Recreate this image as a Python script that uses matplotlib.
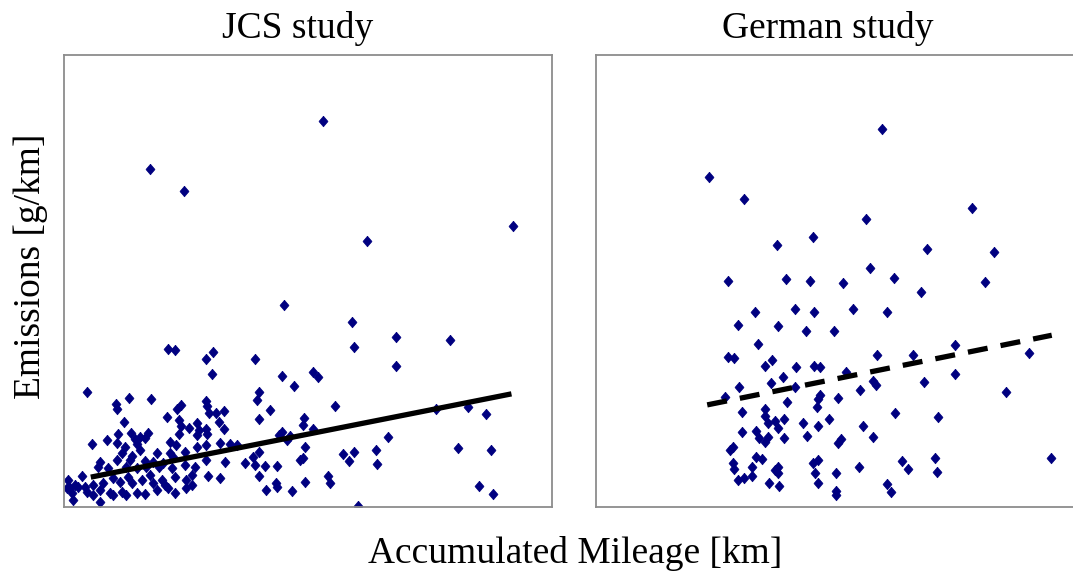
import numpy as np
import matplotlib.pyplot as plt

plt.rcParams['font.family'] = ['Liberation Serif', 'DejaVu Serif']

# JCS study: accumulated mileage vs. emissions (relative units)
jcs_mileage = [
    17.6, 24.7, 53.1, 62.2, 45.1, 59.1, 68.0, 92.1, 79.2, 76.2, 82.7, 86.5, 80.7, 87.6, 85.0, 87.9,
    21.3, 22.7, 29.1, 30.5, 30.3,
    59.4, 39.1, 68.0, 44.7, 51.0, 52.0, 47.1, 39.9, 39.5, 55.6, 42.2, 40.0, 49.2, 48.9, 51.1,
    44.7, 44.0, 46.3, 45.8, 66.4, 49.4, 34.0, 35.4, 39.9, 38.8, 57.2, 59.4, 63.9, 48.9, 48.3,
    37.1, 39.1, 41.3, 43.6, 58.4, 64.2, 40.0, 54.2, 54.5, 43.4, 43.6, 49.4, 41.4, 46.7, 60.3,
    4.7, 13.4, 17.9, 10.7, 10.8, 29.2, 23.9, 23.1, 29.4, 29.7, 31.1, 32.8, 21.2, 12.4, 23.6,
    27.3, 23.9, 31.8, 25.6, 27.6, 29.1, 32.8, 11.1, 13.7, 17.3, 16.6, 15.6, 14.6, 23.5, 27.2,
    29.4, 8.9, 5.7, 21.7, 23.0, 10.9, 12.6, 14.9, 15.6, 24.8, 27.2, 29.2, 32.0, 11.8, 13.9,
    19.0, 21.7, 10.8, 13.5, 16.6, 7.4, 18.3, 20.2, 22.4, 29.2, 33.0, 7.0, 9.1, 12.8, 14.9,
    16.9, 19.5, 22.1, 24.8, 26.8, 3.7, 0.9, 2.3, 1.2, 2.9, 4.3, 6.0, 8.1, 10.1, 11.5, 13.2,
    13.9, 15.9, 17.6, 18.2, 20.0, 20.7, 22.7, 25.1, 26.2, 29.6, 32.0, 26.2, 1.6, 1.9, 4.7,
    6.0, 7.4, 9.4, 10.1, 11.8, 12.8, 14.9, 16.6, 19.0, 21.4, 22.7, 25.1, 0.6, 7.4,
]
jcs_emissions = [
    74.8, 70.0, 85.3, 58.8, 44.8, 41.0, 37.6, 62.3, 37.1, 21.7, 22.1, 20.7, 13.1, 12.7, 4.8, 2.9,
    35.0, 34.7, 32.9, 34.4, 29.4,
    35.4, 32.9, 31.3, 29.1, 29.9, 28.8, 26.9, 25.5, 23.8, 22.4, 21.5, 19.6, 19.8, 18.2, 17.4,
    16.7, 16.1, 15.8, 14.9, 15.5, 13.4, 14.0, 13.8, 12.3, 11.2, 11.9, 12.3, 12.7, 10.9, 10.5,
    9.8, 9.4, 9.2, 9.2, 10.3, 9.5, 7.0, 7.0, 5.3, 5.3, 4.5, 5.6, 3.9, 3.6, 0.4,
    25.5, 24.2, 23.9, 22.8, 21.7, 23.6, 22.7, 21.8, 22.4, 20.8, 20.9, 21.4, 20.1, 19.0, 19.3,
    18.7, 17.9, 19.0, 17.5, 17.1, 17.3, 17.3, 16.2, 16.4, 16.4, 15.3, 15.6, 15.1, 16.2, 16.0,
    16.2, 14.9, 14.0, 14.5, 13.8, 14.2, 13.4, 14.0, 12.7, 12.3, 13.4, 13.8, 14.2, 12.0, 11.4,
    12.0, 12.0, 10.5, 10.5, 10.3, 10.1, 10.1, 9.9, 11.1, 10.5, 10.1, 9.0, 8.7, 9.0, 8.7,
    9.0, 9.0, 8.7, 9.4, 9.0, 7.0, 6.1, 5.0, 4.2, 4.6, 4.6, 5.0, 5.3, 6.5, 5.7, 6.8,
    5.3, 6.1, 7.2, 5.3, 6.1, 5.0, 6.8, 6.1, 7.2, 7.0, 6.5, 5.0, 3.1, 1.7, 3.5,
    2.8, 1.3, 3.1, 2.8, 3.5, 2.8, 3.1, 3.0, 3.9, 4.2, 3.1, 4.2, 4.2, 3.9,
]

# German study
ger_mileage = [
    58.7, 23.2, 30.4, 55.3, 44.5, 37.2, 56.1, 27.1, 38.9, 43.9, 50.6, 32.5, 40.7, 44.7, 52.7,
    59.7, 29.1, 37.4, 43.0, 48.8, 33.3, 27.0, 28.3, 36.1, 57.5, 34.7, 41.0, 44.7, 46.0,
    77.1, 67.9, 81.6, 61.1, 79.7, 66.6, 73.6, 88.7, 65.0, 73.6, 67.2, 84.1, 61.2, 70.0, 62.8,
    64.0, 69.5, 69.9, 93.2, 59.7, 60.4,
    51.3, 38.4, 29.3, 35.9, 40.8, 54.2, 56.7, 57.4, 26.4, 39.1, 46.0, 45.6, 45.2, 49.6, 29.9,
    34.7, 34.7, 35.2, 36.7, 38.5, 37.3, 42.4, 45.6, 47.8, 54.8, 29.9, 32.9, 33.4, 35.3, 34.6,
    38.5, 43.2, 50.3, 49.7, 56.8, 28.1, 27.5, 32.9, 34.0, 28.0, 28.3, 31.9, 31.9, 36.7, 37.4,
    37.4, 45.6, 44.5, 44.9, 49.1, 54.0, 29.2, 30.3, 35.5, 37.6, 45.6, 49.1, 49.1,
]
ger_emissions = [
    83.6, 73.1, 68.2, 63.7, 59.8, 58.1, 52.9, 50.0, 50.4, 50.0, 49.7, 43.1, 43.8, 43.1, 43.8,
    43.1, 40.3, 40.0, 38.9, 38.9, 36.1, 33.3, 33.0, 32.6, 33.6, 31.3, 31.1, 31.3, 31.0,
    66.1, 57.1, 56.4, 50.8, 49.8, 47.7, 35.8, 34.1, 33.7, 29.4, 27.7, 25.6, 20.8, 20.1, 10.3,
    8.4, 10.9, 7.8, 10.9, 5.2, 3.5,
    30.0, 28.8, 26.7, 27.4, 26.7, 26.0, 28.0, 27.1, 24.4, 23.4, 24.9, 23.9, 22.1, 24.3, 21.0,
    21.7, 20.2, 18.6, 19.1, 19.6, 17.5, 18.6, 17.9, 19.6, 18.0, 16.6, 16.9, 15.3, 15.6, 14.5,
    15.4, 15.8, 15.1, 14.3, 15.5, 13.4, 12.6, 11.2, 10.8, 9.8, 8.4, 8.9, 7.0, 8.3, 9.0,
    7.6, 10.5, 9.8, 7.7, 7.6, 8.9, 6.1, 6.5, 5.3, 4.8, 5.3, 3.7, 2.8,
]

# linear trends: (intercept, slope, x range)
jcs_fit = (5.53, 0.2135, (5.5, 91.7))
ger_fit = (17.7, 0.218, (22.8, 93.4))

# slightly tall diamond marker
diamond = [(0, 1), (0.85, 0), (0, -1), (-0.85, 0), (0, 1)]

fig = plt.figure(figsize=(10.73, 5.72), dpi=100)
ax1 = fig.add_axes([0.0596, 0.1128, 0.4548, 0.7911])
# right panel runs past the figure edge; widen it and keep the same x scale
ax2 = fig.add_axes([0.5554, 0.1128, 0.5, 0.7911])

panels = [
    (ax1, jcs_mileage, jcs_emissions, jcs_fit, '-', 100),
    (ax2, ger_mileage, ger_emissions, ger_fit, (0, (3.8, 2.5)), 100 * 0.5 / 0.4548),
]
for ax, x, y, fit, ls, xmax in panels:
    ax.plot(x, y, marker=diamond, color='#000080', ms=7.6, mec='#000080', mew=0.5, ls='none')
    b, m, (x0, x1) = fit
    xs = np.array([x0, x1])
    ax.plot(xs, b + m * xs, color='black', lw=3.8, ls=ls,
            solid_capstyle='butt', dash_capstyle='butt')
    ax.set_xlim(0, xmax)
    ax.set_ylim(0, 100)
    ax.set_xticks([])
    ax.set_yticks([])
    for s in ax.spines.values():
        s.set_color('#8c8c8c')
        s.set_linewidth(1.3)

fig.text(0.2777, 0.951, 'JCS study', ha='center', va='center', fontsize=27)
fig.text(0.7717, 0.951, 'German study', ha='center', va='center', fontsize=27)
fig.text(0.536, 0.033, 'Accumulated Mileage [km]', ha='center', va='center', fontsize=27)
fig.text(0.029, 0.535, 'Emissions [g/km]', ha='center', va='center', rotation=90, fontsize=27)

fig.savefig('out.png', dpi=100)
